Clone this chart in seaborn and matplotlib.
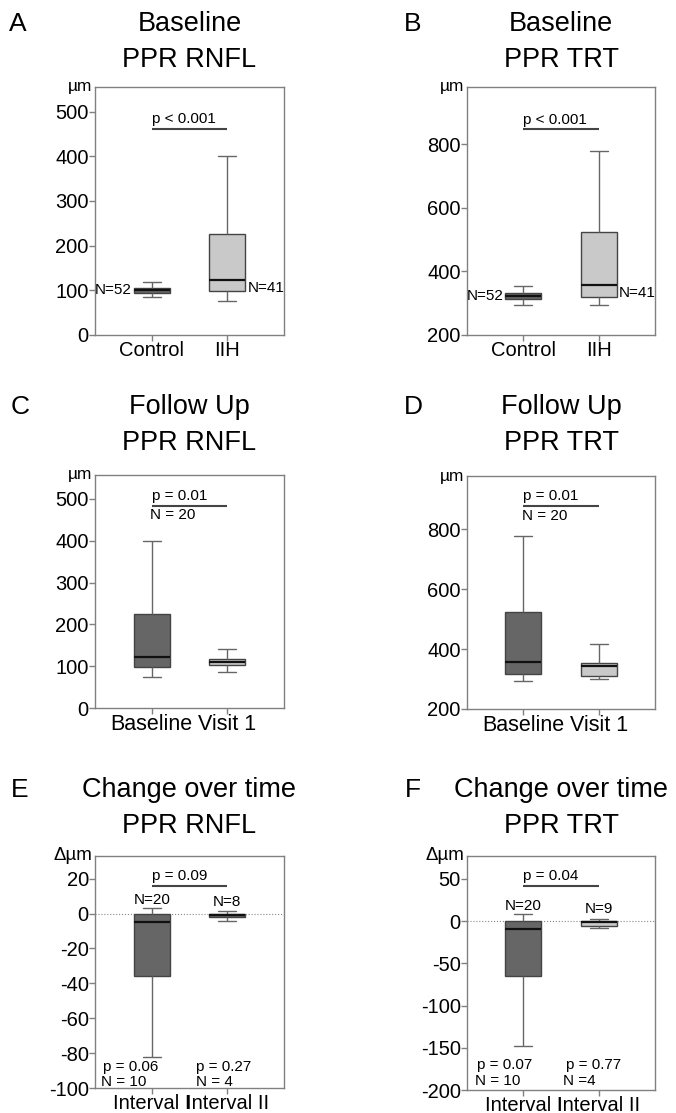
import numpy as np
import pandas as pd
import matplotlib
matplotlib.use("Agg")
import matplotlib.pyplot as plt
import seaborn as sns

sns.set_style("white")
plt.rcParams['font.family'] = ['Liberation Sans', 'DejaVu Sans']
plt.rcParams['axes.unicode_minus'] = False
plt.rcParams['text.color'] = 'black'
plt.rcParams['xtick.labelcolor'] = 'black'
plt.rcParams['ytick.labelcolor'] = 'black'

# five-number summaries: [min, Q1, median, Q3, max]
a_groups = ["Control", "IIH"]
a_control = [85, 93, 100, 105, 118]
a_iih = [75, 98, 122, 225, 400]

b_groups = ["Control", "IIH"]
b_control = [295, 312, 322, 332, 355]
b_iih = [293, 318, 358, 525, 778]

c_groups = ["Baseline", "Visit 1"]
c_baseline = [75, 98, 122, 225, 400]
c_visit1 = [85, 102, 110, 118, 142]

d_groups = ["Baseline", "Visit 1"]
d_baseline = [293, 318, 358, 525, 778]
d_visit1 = [300, 310, 342, 355, 418]

e_groups = ["Interval I", "Interval II"]
e_int1 = [-82, -36, -5, 0, 3]
e_int2 = [-4, -2, -1, 0, 1.5]

f_groups = ["Interval I", "Interval II"]
f_int1 = [-148, -65, -10, 0, 8]
f_int2 = [-8, -6, -1, 0, 3]

DARK = "#666666"
LIGHT = "#c9c9c9"

W, H = 676, 1113
fig = plt.figure(figsize=(W / 100, H / 100), dpi=100)


def add_ax(left, right, top, bottom):
    return fig.add_axes([left / W, 1 - bottom / H, (right - left) / W, (bottom - top) / H])


def draw(ax, groups, vals, colors, ylim, yticks, xsize):
    df = pd.DataFrame({
        "group": np.repeat(groups, [len(v) for v in vals]),
        "value": np.concatenate(vals),
    })
    sns.boxplot(data=df, x="group", y="value", hue="group", palette=colors,
                order=groups, hue_order=groups, whis=(0, 100), width=0.48,
                linecolor="#444444", linewidth=1.0, legend=False, ax=ax,
                medianprops=dict(color="#111111", linewidth=1.6),
                whiskerprops=dict(color="#666666", linewidth=1.0),
                capprops=dict(color="#666666", linewidth=1.0),
                boxprops=dict(edgecolor="#444444", linewidth=1.0))
    ax.set_xlim(-0.75, 1.75)
    ax.set_ylim(*ylim)
    ax.set_yticks(yticks)
    ax.set_xlabel("")
    ax.set_ylabel("")
    for s in ax.spines.values():
        s.set_visible(True)
        s.set_color("#808080")
        s.set_linewidth(1.0)
    ax.tick_params(axis="both", which="both", direction="out", length=4, width=1,
                   color="#808080", left=True, bottom=True, labelcolor="black")
    ax.tick_params(axis="y", labelsize=14.5, pad=0.5)
    ax.tick_params(axis="x", labelsize=xsize, pad=0.5)


def sigbar(ax, y, text, below=None):
    ax.plot([0, 1], [y, y], color="#444444", lw=1.5, solid_capstyle="butt")
    ax.annotate(text, (0, y), xytext=(0, 2), textcoords="offset points",
                ha="left", va="bottom", fontsize=11)
    if below:
        ax.annotate(below, (0, y), xytext=(-1, -2), textcoords="offset points",
                    ha="left", va="top", fontsize=11)


def titles(ax, letter, l1, l2, letter_x, y1):
    cx = (ax.get_position().x0 + ax.get_position().x1) / 2
    fig.text(cx, 1 - y1 / H, l1, ha="center", va="center", fontsize=19.5)
    fig.text(cx, 1 - (y1 + 36) / H, l2, ha="center", va="center", fontsize=19.5)
    fig.text(letter_x / W, 1 - y1 / H, letter, ha="center", va="center", fontsize=19)


def unit(ax, text, size=12.5):
    ax.annotate(text, (0, 1), xycoords="axes fraction", xytext=(-2, 0),
                textcoords="offset points", ha="right", va="center", fontsize=size)


# Panel A
axA = add_ax(95, 284, 87, 335)
draw(axA, a_groups, [a_control, a_iih], [DARK, LIGHT], (0, 555), [0, 100, 200, 300, 400, 500], 14.5)
sigbar(axA, 461, "p < 0.001")
axA.text(-0.26, 100, "N=52", ha="right", va="center", fontsize=11)
axA.text(1.27, 105, "N=41", ha="left", va="center", fontsize=11)
unit(axA, "µm")
titles(axA, "A", "Baseline", "PPR RNFL", 18, 24)

# Panel B
axB = add_ax(467, 655, 87, 335)
draw(axB, b_groups, [b_control, b_iih], [DARK, LIGHT], (200, 980), [200, 400, 600, 800], 14.5)
sigbar(axB, 847, "p < 0.001")
axB.text(-0.26, 322, "N=52", ha="right", va="center", fontsize=11)
axB.text(1.27, 332, "N=41", ha="left", va="center", fontsize=11)
unit(axB, "µm")
titles(axB, "B", "Baseline", "PPR TRT", 413, 24)

# Panel C
axC = add_ax(95, 284, 475, 708)
draw(axC, c_groups, [c_baseline, c_visit1], [DARK, LIGHT], (0, 557), [0, 100, 200, 300, 400, 500], 15.5)
sigbar(axC, 484, "p = 0.01", below="N = 20")
unit(axC, "µm")
titles(axC, "C", "Follow Up", "PPR RNFL", 20, 407)

# Panel D
axD = add_ax(467, 655, 476, 709)
draw(axD, d_groups, [d_baseline, d_visit1], [DARK, LIGHT], (200, 977), [200, 400, 600, 800], 15.5)
sigbar(axD, 877, "p = 0.01", below="N = 20")
unit(axD, "µm")
titles(axD, "D", "Follow Up", "PPR TRT", 413, 407)

# Panel E
axE = add_ax(95, 284, 856, 1088)
draw(axE, e_groups, [e_int1, e_int2], [DARK, DARK], (-100, 33), [20, 0, -20, -40, -60, -80, -100], 14.5)
axE.axhline(0, color="#888888", lw=0.8, ls=":", zorder=0)
sigbar(axE, 15.7, "p = 0.09")
axE.text(0, 4, "N=20", ha="center", va="bottom", fontsize=11)
axE.text(1, 2.5, "N=8", ha="center", va="bottom", fontsize=11)
axE.text(-0.65, -88, "p = 0.06", ha="left", va="center", fontsize=11)
axE.text(-0.67, -96.5, "N = 10", ha="left", va="center", fontsize=11)
axE.text(0.58, -88, "p = 0.27", ha="left", va="center", fontsize=11)
axE.text(0.58, -96.5, "N = 4", ha="left", va="center", fontsize=11)
unit(axE, "Δµm", 13.5)
titles(axE, "E", "Change over time", "PPR RNFL", 20, 790)

# Panel F
axF = add_ax(467, 655, 856, 1090)
draw(axF, f_groups, [f_int1, f_int2], [DARK, LIGHT], (-200, 77), [50, 0, -50, -100, -150, -200], 14.5)
axF.axhline(0, color="#888888", lw=0.8, ls=":", zorder=0)
sigbar(axF, 41.8, "p = 0.04")
axF.text(0, 9, "N=20", ha="center", va="bottom", fontsize=11)
axF.text(1, 6, "N=9", ha="center", va="bottom", fontsize=11)
axF.text(-0.62, -170, "p = 0.07", ha="left", va="center", fontsize=11)
axF.text(-0.65, -189, "N = 10", ha="left", va="center", fontsize=11)
axF.text(0.57, -170, "p = 0.77", ha="left", va="center", fontsize=11)
axF.text(0.53, -189, "N =4", ha="left", va="center", fontsize=11)
unit(axF, "Δµm", 13.5)
titles(axF, "F", "Change over time", "PPR TRT", 413, 790)

fig.savefig("out.png", dpi=100)
